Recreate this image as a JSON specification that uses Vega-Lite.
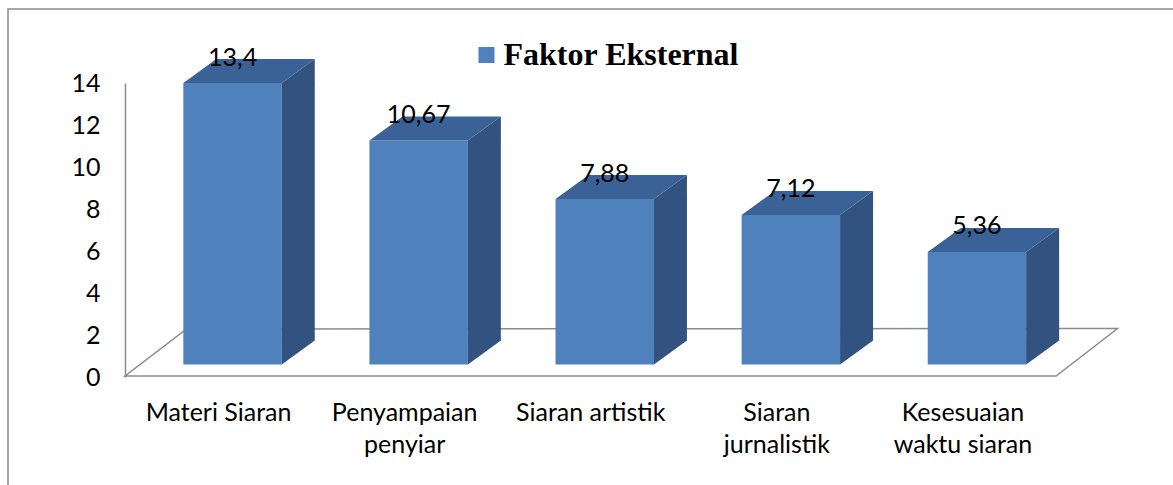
{
  "$schema": "https://vega.github.io/schema/vega-lite/v6.json",
  "autosize": "none",
  "width": 1185,
  "height": 490,
  "padding": {"left": 8, "top": 9, "right": -20, "bottom": -14},
  "background": "white",
  "config": {
    "view": {"stroke": "#8a8a8a", "strokeWidth": 1.5, "fill": "white"},
    "locale": {"number": {"decimal": ",", "thousands": ".", "grouping": [3], "currency": ["", ""]}},
    "font": "Lato",
    "axis": {"grid": false, "ticks": false, "tickSize": 0, "labelFont": "Lato", "labelFontSize": 25, "labelColor": "#000000"}
  },
  "data": {"values": [
    {"kategori": "Materi Siaran", "nilai": 13.4, "seri": "Faktor Eksternal"},
    {"kategori": "Penyampaian penyiar", "nilai": 10.67, "seri": "Faktor Eksternal"},
    {"kategori": "Siaran artistik", "nilai": 7.88, "seri": "Faktor Eksternal"},
    {"kategori": "Siaran jurnalistik", "nilai": 7.12, "seri": "Faktor Eksternal"},
    {"kategori": "Kesesuaian waktu siaran", "nilai": 5.36, "seri": "Faktor Eksternal"}
  ]},
  "layer": [
    {
      "transform": [{"filter": "datum.kategori == 'Materi Siaran'"}],
      "mark": {"type": "point", "shape": "M-93.5,-1L837.5,-1L899,-48.5L-32,-48Z", "size": 4, "filled": false, "stroke": "#8c8c8c", "strokeWidth": 1.5, "opacity": 1},
      "encoding": {
        "x": {"field": "kategori", "type": "nominal", "sort": null, "title": null},
        "y": {"datum": 0, "type": "quantitative", "title": null}
      }
    },
    {
      "mark": {"type": "bar", "xOffset": 14, "yOffset": -12.5, "y2Offset": -12.5},
      "encoding": {
        "x": {"field": "kategori", "type": "nominal", "sort": null, "title": null,
          "scale": {"range": [117.5, 1048], "paddingInner": 0.471, "paddingOuter": 0.2355},
          "axis": {"orient": "bottom", "offset": -122, "domain": false, "labelPadding": 43, "labelBaseline": "alphabetic", "labelAlign": "center", "labelLineHeight": 32, "labelAngle": 0, "labelLimit": 0,
            "labelExpr": "datum.value == 'Penyampaian penyiar' ? ['Penyampaian', 'penyiar'] : datum.value == 'Siaran jurnalistik' ? ['Siaran', 'jurnalistik'] : datum.value == 'Kesesuaian waktu siaran' ? ['Kesesuaian', 'waktu siaran'] : datum.label"}},
        "y": {"field": "nilai", "type": "quantitative", "title": null,
          "scale": {"domain": [0, 14], "range": [368, 74], "nice": false},
          "axis": {"orient": "left", "offset": -117, "values": [0, 2, 4, 6, 8, 10, 12, 14], "domain": true, "domainColor": "#8c8c8c", "domainWidth": 1.5, "labelPadding": 25, "format": "d"}},
        "y2": {"datum": 0},
        "color": {"field": "seri", "type": "nominal", "scale": {"range": ["#4f81bd"]},
          "legend": {"orient": "none", "legendX": 462.5, "legendY": 30, "title": null, "symbolType": "square", "symbolSize": 256, "symbolStrokeWidth": 0, "symbolOpacity": 1, "labelFont": "Liberation Serif", "labelFontWeight": "bold", "labelFontSize": 32, "labelColor": "#000000", "labelOffset": 1, "padding": 0, "labelLimit": 0}}
      }
    },
    {
      "mark": {"type": "rule", "strokeWidth": 33, "color": "#32537f", "xOffset": 79.7, "yOffset": -12.5, "y2Offset": -36.5, "strokeCap": "butt"},
      "encoding": {
        "x": {"field": "kategori", "type": "nominal", "sort": null, "title": null},
        "y": {"field": "nilai", "type": "quantitative", "title": null},
        "y2": {"datum": 0}
      }
    },
    {
      "mark": {"type": "point", "shape": "M63.2,-12.5L96.2,-36.5L96.2,-12L63.2,-12Z", "size": 4, "filled": true, "color": "#32537f", "strokeWidth": 0, "opacity": 1},
      "encoding": {
        "x": {"field": "kategori", "type": "nominal", "sort": null, "title": null},
        "y": {"field": "nilai", "type": "quantitative", "title": null}
      }
    },
    {
      "mark": {"type": "point", "shape": "M63.2,-37L63.2,-12.5L96.2,-36.5L96.2,-37Z", "size": 4, "filled": true, "color": "#32537f", "strokeWidth": 0, "opacity": 1},
      "encoding": {
        "x": {"field": "kategori", "type": "nominal", "sort": null, "title": null},
        "y": {"datum": 0, "type": "quantitative", "title": null}
      }
    },
    {
      "mark": {"type": "point", "shape": "M-35.2,-12.5L63.2,-12.5L96.2,-36.5L-2.2,-36.5Z", "size": 4, "filled": true, "color": "#3b6296", "strokeWidth": 0, "opacity": 1},
      "encoding": {
        "x": {"field": "kategori", "type": "nominal", "sort": null, "title": null},
        "y": {"field": "nilai", "type": "quantitative", "title": null}
      }
    },
    {
      "mark": {"type": "text", "xOffset": 14, "yOffset": -30, "baseline": "alphabetic", "align": "center", "font": "Lato", "fontSize": 25, "color": "#000000"},
      "encoding": {
        "x": {"field": "kategori", "type": "nominal", "sort": null, "title": null},
        "y": {"field": "nilai", "type": "quantitative", "title": null},
        "text": {"field": "nilai", "type": "quantitative", "format": "~g"}
      }
    }
  ]
}
